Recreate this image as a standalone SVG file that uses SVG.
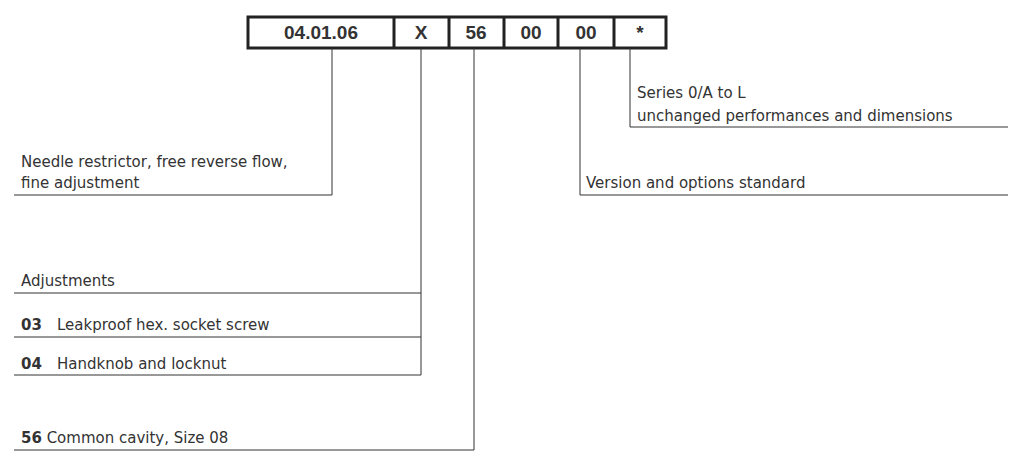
<svg xmlns="http://www.w3.org/2000/svg" width="1017" height="457" viewBox="0 0 1017 457">
<style>
.c{fill:#fff;stroke:#222;stroke-width:3}
.h{font-family:"Liberation Sans",Arial,sans-serif;font-weight:bold;font-size:19px;fill:#333;text-anchor:middle}
.t{font-family:"DejaVu Sans",sans-serif;font-size:15px;fill:#333}
.b{font-weight:bold}
.l{stroke:#333;stroke-width:1;fill:none}
</style>
<rect width="1017" height="457" fill="#fff"/>
<g id="code">
<rect class="c" x="248" y="17" width="418" height="31"/>
<path class="l" style="stroke-width:3;stroke:#222" d="M394 17V48M449 17V48M504 17V48M558 17V48M614 17V48"/>
<text class="h" x="321" y="39">04.01.06</text>
<text class="h" x="421" y="39">X</text>
<text class="h" x="476" y="39">56</text>
<text class="h" x="531" y="39">00</text>
<text class="h" x="586" y="39">00</text>
<text class="h" x="640" y="39">*</text>
</g>
<g id="connectors">
<path class="l" d="M332 48V195H14"/>
<path class="l" d="M421 48V375H14M421 293H14M421 337H14"/>
<path class="l" d="M474 48V450H14"/>
<path class="l" d="M580 48V195H1008"/>
<path class="l" d="M630 48V127H1008"/>
</g>
<g id="n1"><text class="t" x="21" y="167">Needle restrictor, free reverse flow,</text><text class="t" x="21" y="188">fine adjustment</text></g>
<g id="n2"><text class="t" x="21" y="286">Adjustments</text></g>
<g id="n3"><text class="t" x="21" y="330"><tspan class="b">03</tspan><tspan x="57">Leakproof hex. socket screw</tspan></text></g>
<g id="n4"><text class="t" x="21" y="369"><tspan class="b">04</tspan><tspan x="57">Handknob and locknut</tspan></text></g>
<g id="n5"><text class="t" x="21" y="443"><tspan class="b">56</tspan> Common cavity, Size 08</text></g>
<g id="n6"><text class="t" x="586" y="188">Version and options standard</text></g>
<g id="n7"><text class="t" x="637" y="98">Series 0/A to L</text><text class="t" x="637" y="121">unchanged performances and dimensions</text></g>
</svg>
